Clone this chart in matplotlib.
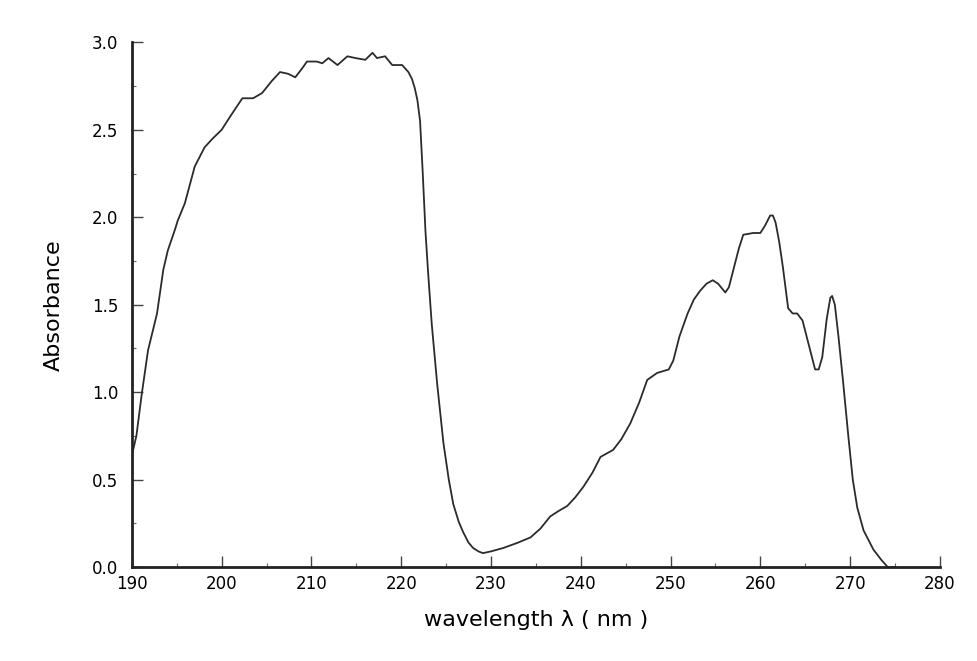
import matplotlib
matplotlib.use("Agg")
import matplotlib.pyplot as plt
from matplotlib.ticker import MultipleLocator

wavelength = [190.0, 190.5, 191.1, 191.8, 192.8, 193.5, 194.0, 194.8, 195.1, 195.9,
              197.0, 198.1, 199.0, 200.0, 201.0, 202.3, 203.5, 204.5, 205.6, 206.5, 207.4,
              208.2, 208.95, 209.5, 210.6, 211.2, 211.9, 212.9, 214.0, 214.9, 216.0,
              216.8, 217.3, 218.2, 219.0, 220.1, 220.8, 221.2, 221.5, 221.8, 222.1, 222.4, 222.7,
              223.0, 223.4, 224.0, 224.7, 225.3, 225.8, 226.4, 226.9, 227.5, 228.0, 228.6,
              229.1, 230.0, 231.4, 233.0, 234.4,
              235.5, 236.6, 237.5, 238.5, 239.4, 240.3, 241.3, 242.2, 243.6, 244.5, 245.5, 246.5,
              247.4, 248.5, 249.8,
              250.3, 251.0, 251.9, 252.6, 253.3, 254.0, 254.7, 255.3, 256.1, 256.5, 257.0, 257.6,
              258.1, 259.2, 260.0, 260.5,
              261.1, 261.4, 261.7, 262.1, 262.5, 263.1, 263.6, 264.1, 264.7, 265.5, 266.1,
              266.5, 266.9, 267.4, 267.8, 268.0, 268.3, 268.7,
              269.2, 269.8, 270.3, 270.8, 271.5, 272.6, 273.5, 274.2, 275.0]
absorbance = [0.64, 0.75, 0.99, 1.24, 1.45, 1.70, 1.81, 1.93, 1.98, 2.08,
              2.29, 2.40, 2.45, 2.50, 2.58, 2.68, 2.68, 2.71, 2.78, 2.83, 2.82,
              2.80, 2.85, 2.89, 2.89, 2.88, 2.91, 2.87, 2.92, 2.91, 2.90,
              2.94, 2.91, 2.92, 2.87, 2.87, 2.83, 2.79, 2.74, 2.67, 2.55, 2.25, 1.92,
              1.68, 1.39, 1.05, 0.71, 0.50, 0.36, 0.26, 0.20, 0.14, 0.11, 0.09,
              0.08, 0.09, 0.11, 0.14, 0.17,
              0.22, 0.29, 0.32, 0.35, 0.40, 0.46, 0.54, 0.63, 0.67, 0.73, 0.82, 0.94,
              1.07, 1.11, 1.13,
              1.18, 1.32, 1.45, 1.53, 1.58, 1.62, 1.64, 1.62, 1.57, 1.60, 1.70, 1.82,
              1.90, 1.91, 1.91, 1.95,
              2.01, 2.01, 1.97, 1.86, 1.72, 1.48, 1.45, 1.45, 1.41, 1.25, 1.13,
              1.13, 1.20, 1.42, 1.54, 1.55, 1.50, 1.32,
              1.07, 0.75, 0.50, 0.34, 0.21, 0.10, 0.04, 0.00, 0.00]

x_ticks = [190, 200, 210, 220, 230, 240, 250, 260, 270, 280]
y_ticks = [0.0, 0.5, 1.0, 1.5, 2.0, 2.5, 3.0]

fig = plt.figure(figsize=(9.77, 6.61), dpi=100)
ax = fig.add_axes([0.135, 0.142, 0.827, 0.794])
ax.plot(wavelength, absorbance, color="#2b2b2b", lw=1.3,
        solid_joinstyle="round", solid_capstyle="round")
ax.set_xlim(190, 280)
ax.set_ylim(0, 3.0)
ax.set_xticks(x_ticks)
ax.set_yticks(y_ticks)
ax.set_yticklabels([f"{v:.1f}" for v in y_ticks])
ax.xaxis.set_minor_locator(MultipleLocator(5))
ax.yaxis.set_minor_locator(MultipleLocator(0.25))
ax.tick_params(which="major", direction="in", length=8, width=1.0, labelsize=12, color="#444444")
ax.tick_params(which="minor", direction="in", length=3, width=0.8, color="#666666")
ax.tick_params(axis="y", pad=10)
ax.tick_params(axis="x", pad=6)
for s in ["top", "right"]:
    ax.spines[s].set_visible(False)
for s in ["left", "bottom"]:
    ax.spines[s].set_linewidth(2.0)
    ax.spines[s].set_color("#222222")
ax.set_xlabel("wavelength λ ( nm )", fontsize=16, labelpad=12)
ax.set_ylabel("Absorbance", fontsize=16, labelpad=20)
fig.savefig("out.png", dpi=100)
